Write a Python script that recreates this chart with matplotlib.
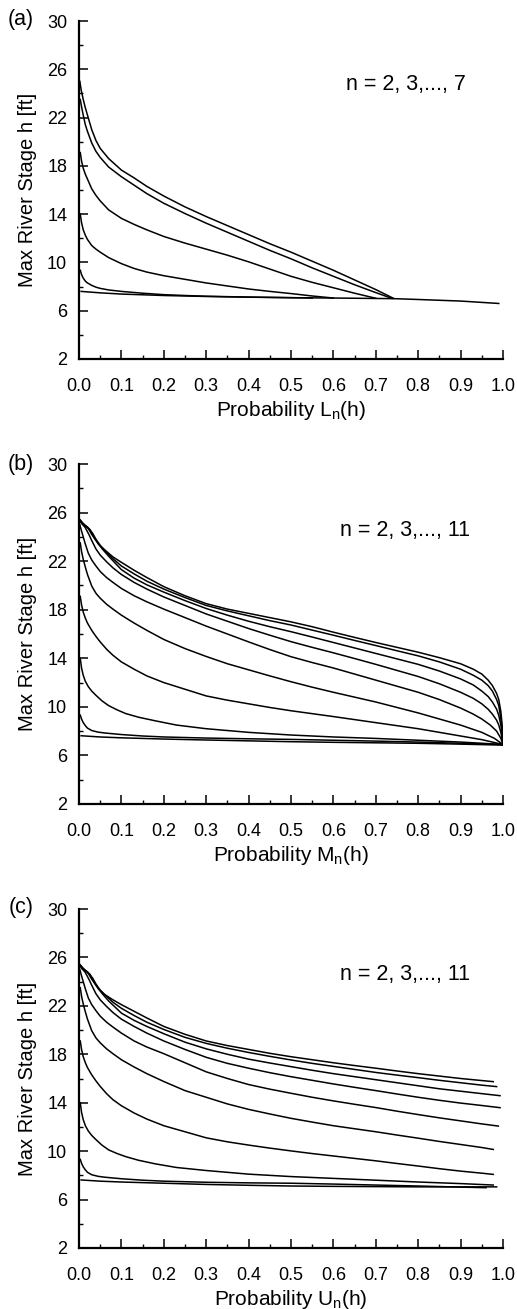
import matplotlib
matplotlib.use("Agg")
import matplotlib.pyplot as plt
from matplotlib.ticker import FixedLocator, FormatStrFormatter

plt.rcParams['font.family'] = ['Liberation Sans', 'DejaVu Sans']
plt.rcParams['mathtext.fontset'] = 'custom'
plt.rcParams['mathtext.rm'] = 'Liberation Sans'

# ---------------- data: panel (a)  L_n(h) ----------------
A7_P = [0.002, 0.005, 0.01, 0.015, 0.02, 0.03, 0.04, 0.05, 0.07, 0.1, 0.13, 0.16, 0.2, 0.25, 0.3, 0.35, 0.4, 0.45, 0.5, 0.55, 0.6, 0.65, 0.7, 0.742]
A7_H = [25.0, 24.3, 23.5, 22.8, 22.2, 21.0, 20.1, 19.45, 18.6, 17.65, 17.0, 16.3, 15.5, 14.6, 13.8, 13.05, 12.3, 11.55, 10.85, 10.1, 9.35, 8.55, 7.75, 7.02]
A6_P = [0.003, 0.006, 0.01, 0.015, 0.02, 0.03, 0.04, 0.05, 0.07, 0.1, 0.13, 0.16, 0.2, 0.25, 0.3, 0.35, 0.4, 0.45, 0.5, 0.55, 0.6, 0.65, 0.7, 0.738]
A6_H = [23.5, 22.9, 22.2, 21.4, 20.85, 19.9, 19.2, 18.7, 17.9, 17.1, 16.4, 15.7, 14.9, 14.05, 13.25, 12.5, 11.75, 11.0, 10.3, 9.55, 8.85, 8.15, 7.5, 7.02]
A5_P = [0.003, 0.006, 0.01, 0.015, 0.02, 0.03, 0.04, 0.05, 0.07, 0.1, 0.13, 0.16, 0.2, 0.25, 0.3, 0.35, 0.4, 0.45, 0.5, 0.55, 0.6, 0.65, 0.7]
A5_H = [19.1, 18.4, 17.8, 17.3, 16.9, 16.1, 15.55, 15.1, 14.35, 13.65, 13.15, 12.7, 12.15, 11.6, 11.1, 10.6, 10.05, 9.45, 8.85, 8.35, 7.9, 7.45, 7.03]
A4_P = [0.003, 0.006, 0.01, 0.015, 0.02, 0.03, 0.04, 0.05, 0.07, 0.1, 0.13, 0.16, 0.2, 0.25, 0.3, 0.35, 0.4, 0.45, 0.5, 0.55, 0.6]
A4_H = [14.0, 13.3, 12.7, 12.25, 11.9, 11.4, 11.1, 10.85, 10.4, 9.9, 9.5, 9.2, 8.9, 8.6, 8.3, 8.05, 7.8, 7.6, 7.42, 7.22, 7.05]
A3_P = [0.003, 0.006, 0.01, 0.015, 0.02, 0.03, 0.04, 0.05, 0.07, 0.1, 0.15, 0.2, 0.25, 0.3, 0.4, 0.5, 0.55]
A3_H = [9.35, 9.0, 8.7, 8.45, 8.3, 8.1, 7.95, 7.85, 7.72, 7.6, 7.45, 7.33, 7.26, 7.2, 7.13, 7.08, 7.05]
A2_P = [0.005, 0.05, 0.1, 0.2, 0.3, 0.4, 0.5, 0.6, 0.742, 0.8, 0.9, 0.99]
A2_H = [7.6, 7.48, 7.38, 7.26, 7.18, 7.12, 7.08, 7.05, 7.0, 6.93, 6.8, 6.6]

# ---------------- data: panel (b)  M_n(h) ----------------
B11_P = [0.002, 0.008, 0.014, 0.02, 0.026, 0.035, 0.046, 0.06, 0.08, 0.1, 0.13, 0.16, 0.2, 0.25, 0.3, 0.35, 0.4, 0.45, 0.5, 0.55, 0.6, 0.65, 0.7, 0.75, 0.8, 0.85, 0.9, 0.93, 0.95, 0.965, 0.975, 0.985, 0.99, 0.995, 0.998, 1.0]
B11_H = [25.4, 25.15, 24.95, 24.8, 24.6, 24.0, 23.4, 22.95, 22.35, 21.9, 21.25, 20.65, 19.9, 19.15, 18.5, 18.05, 17.7, 17.35, 17.0, 16.6, 16.15, 15.72, 15.3, 14.9, 14.5, 14.05, 13.55, 13.1, 12.7, 12.2, 11.75, 11.1, 10.6, 9.6, 8.5, 6.9]
B10_P = [0.002, 0.008, 0.014, 0.02, 0.026, 0.032, 0.04, 0.05, 0.06, 0.08, 0.1, 0.13, 0.16, 0.2, 0.25, 0.3, 0.35, 0.4, 0.45, 0.5, 0.55, 0.6, 0.65, 0.7, 0.75, 0.8, 0.85, 0.9, 0.93, 0.95, 0.965, 0.975, 0.985, 0.99, 0.995, 0.998, 1.0]
B10_H = [25.4, 25.15, 24.95, 24.75, 24.55, 24.3, 23.8, 23.3, 22.9, 22.2, 21.6, 20.95, 20.35, 19.7, 19.0, 18.35, 17.9, 17.5, 17.1, 16.74, 16.32, 15.9, 15.47, 15.05, 14.62, 14.2, 13.7, 13.1, 12.6, 12.2, 11.75, 11.3, 10.6, 10.1, 9.0, 8.0, 6.9]
B9_P = [0.002, 0.008, 0.014, 0.02, 0.025, 0.03, 0.035, 0.045, 0.055, 0.07, 0.1, 0.13, 0.16, 0.2, 0.25, 0.3, 0.35, 0.4, 0.45, 0.5, 0.55, 0.6, 0.65, 0.7, 0.75, 0.8, 0.85, 0.9, 0.93, 0.95, 0.965, 0.975, 0.985, 0.99, 0.995, 0.998, 1.0]
B9_H = [25.4, 25.15, 24.95, 24.8, 24.5, 24.2, 23.95, 23.45, 23.0, 22.4, 21.3, 20.6, 20.05, 19.45, 18.75, 18.1, 17.55, 17.05, 16.6, 16.19, 15.75, 15.3, 14.85, 14.4, 13.95, 13.5, 12.95, 12.3, 11.8, 11.3, 10.85, 10.4, 9.8, 9.3, 8.5, 7.7, 6.9]
B8_P = [0.002, 0.006, 0.01, 0.014, 0.018, 0.024, 0.03, 0.04, 0.05, 0.065, 0.08, 0.1, 0.13, 0.16, 0.2, 0.25, 0.3, 0.35, 0.4, 0.45, 0.5, 0.55, 0.6, 0.65, 0.7, 0.75, 0.8, 0.85, 0.9, 0.93, 0.95, 0.965, 0.975, 0.985, 0.99, 0.995, 1.0]
B8_H = [25.35, 25.1, 24.95, 24.8, 24.55, 24.15, 23.7, 23.0, 22.5, 21.95, 21.45, 20.9, 20.25, 19.7, 19.05, 18.35, 17.65, 17.05, 16.45, 15.9, 15.37, 14.9, 14.45, 13.98, 13.5, 13.0, 12.5, 11.9, 11.2, 10.7, 10.25, 9.8, 9.4, 8.9, 8.5, 7.9, 6.9]
B7_P = [0.002, 0.005, 0.01, 0.015, 0.022, 0.03, 0.04, 0.05, 0.065, 0.08, 0.1, 0.13, 0.16, 0.2, 0.25, 0.3, 0.35, 0.4, 0.45, 0.5, 0.55, 0.6, 0.65, 0.7, 0.75, 0.8, 0.85, 0.9, 0.93, 0.95, 0.97, 0.985, 0.995, 1.0]
B7_H = [25.0, 24.6, 24.0, 23.4, 22.65, 22.1, 21.6, 21.15, 20.65, 20.25, 19.75, 19.15, 18.65, 18.05, 17.35, 16.65, 16.0, 15.35, 14.72, 14.13, 13.65, 13.2, 12.7, 12.2, 11.7, 11.2, 10.6, 9.9, 9.4, 9.0, 8.5, 8.0, 7.4, 6.9]
B6_P = [0.003, 0.006, 0.01, 0.015, 0.02, 0.03, 0.04, 0.05, 0.065, 0.08, 0.1, 0.13, 0.16, 0.2, 0.25, 0.3, 0.35, 0.4, 0.45, 0.5, 0.55, 0.6, 0.65, 0.7, 0.75, 0.8, 0.85, 0.9, 0.95, 0.98, 1.0]
B6_H = [23.5, 22.8, 22.15, 21.5, 20.9, 19.95, 19.35, 18.95, 18.45, 18.05, 17.55, 16.9, 16.3, 15.55, 14.8, 14.15, 13.55, 13.05, 12.55, 12.07, 11.62, 11.2, 10.8, 10.4, 9.95, 9.5, 9.0, 8.5, 7.9, 7.4, 6.9]
B5_P = [0.003, 0.006, 0.01, 0.015, 0.02, 0.03, 0.04, 0.05, 0.065, 0.08, 0.1, 0.13, 0.16, 0.2, 0.25, 0.3, 0.35, 0.4, 0.45, 0.5, 0.6, 0.7, 0.8, 0.9, 0.95, 1.0]
B5_H = [19.1, 18.4, 17.8, 17.3, 16.9, 16.3, 15.8, 15.35, 14.75, 14.25, 13.7, 13.1, 12.55, 12.0, 11.45, 10.9, 10.55, 10.25, 9.95, 9.68, 9.2, 8.7, 8.2, 7.6, 7.3, 6.9]
B4_P = [0.003, 0.006, 0.01, 0.015, 0.022, 0.03, 0.04, 0.054, 0.07, 0.09, 0.11, 0.14, 0.18, 0.23, 0.3, 0.4, 0.5, 0.6, 0.7, 0.8, 0.9, 1.0]
B4_H = [14.0, 13.2, 12.6, 12.1, 11.66, 11.3, 10.95, 10.5, 10.1, 9.75, 9.45, 9.15, 8.85, 8.5, 8.2, 7.9, 7.68, 7.52, 7.4, 7.25, 7.1, 6.9]
B3_P = [0.003, 0.006, 0.01, 0.015, 0.02, 0.03, 0.045, 0.06, 0.1, 0.15, 0.2, 0.3, 0.4, 0.5, 0.6, 0.7, 0.8, 0.9, 1.0]
B3_H = [9.32, 9.0, 8.7, 8.45, 8.25, 8.05, 7.92, 7.85, 7.72, 7.6, 7.52, 7.43, 7.37, 7.32, 7.25, 7.18, 7.1, 7.0, 6.9]
B2_P = [0.005, 0.05, 0.1, 0.2, 0.3, 0.4, 0.5, 0.6, 0.7, 0.8, 0.9, 1.0]
B2_H = [7.62, 7.52, 7.45, 7.35, 7.27, 7.2, 7.13, 7.08, 7.04, 7.0, 6.93, 6.85]

# ---------------- data: panel (c)  U_n(h) ----------------
C11_P = [0.002, 0.008, 0.014, 0.02, 0.026, 0.035, 0.046, 0.06, 0.08, 0.1, 0.13, 0.16, 0.2, 0.25, 0.3, 0.35, 0.4, 0.45, 0.5, 0.55, 0.6, 0.65, 0.7, 0.75, 0.8, 0.85, 0.9, 0.95, 0.977]
C11_H = [25.4, 25.15, 24.95, 24.8, 24.6, 24.0, 23.4, 22.95, 22.5, 22.1, 21.55, 21.0, 20.3, 19.65, 19.1, 18.72, 18.4, 18.08, 17.8, 17.55, 17.3, 17.07, 16.85, 16.62, 16.4, 16.2, 16.0, 15.83, 15.74]
C10_P = [0.002, 0.008, 0.014, 0.02, 0.026, 0.032, 0.04, 0.05, 0.06, 0.08, 0.1, 0.13, 0.16, 0.2, 0.25, 0.3, 0.35, 0.4, 0.45, 0.5, 0.55, 0.6, 0.65, 0.7, 0.75, 0.8, 0.85, 0.9, 0.95, 0.985]
C10_H = [25.4, 25.15, 24.95, 24.75, 24.55, 24.3, 23.8, 23.3, 22.95, 22.3, 21.8, 21.2, 20.65, 20.05, 19.4, 18.9, 18.5, 18.15, 17.83, 17.53, 17.25, 17.0, 16.75, 16.5, 16.28, 16.07, 15.85, 15.65, 15.45, 15.33]
C9_P = [0.002, 0.008, 0.014, 0.02, 0.025, 0.03, 0.035, 0.045, 0.055, 0.07, 0.1, 0.13, 0.16, 0.2, 0.25, 0.3, 0.35, 0.4, 0.45, 0.5, 0.55, 0.6, 0.65, 0.7, 0.75, 0.8, 0.85, 0.9, 0.95, 0.993]
C9_H = [25.4, 25.15, 24.95, 24.8, 24.5, 24.2, 23.95, 23.45, 23.0, 22.4, 21.4, 20.8, 20.3, 19.7, 19.0, 18.45, 18.0, 17.6, 17.28, 16.98, 16.68, 16.4, 16.15, 15.9, 15.65, 15.4, 15.15, 14.95, 14.75, 14.58]
C8_P = [0.002, 0.006, 0.01, 0.014, 0.018, 0.024, 0.03, 0.04, 0.05, 0.065, 0.08, 0.1, 0.13, 0.16, 0.2, 0.25, 0.3, 0.35, 0.4, 0.45, 0.5, 0.55, 0.6, 0.65, 0.7, 0.75, 0.8, 0.85, 0.9, 0.95, 0.993]
C8_H = [25.35, 25.1, 24.95, 24.8, 24.55, 24.15, 23.7, 23.0, 22.5, 21.95, 21.45, 20.9, 20.3, 19.75, 19.1, 18.4, 17.75, 17.25, 16.85, 16.48, 16.15, 15.85, 15.55, 15.27, 15.0, 14.72, 14.45, 14.2, 13.97, 13.77, 13.59]
C7_P = [0.002, 0.005, 0.01, 0.015, 0.022, 0.03, 0.04, 0.05, 0.065, 0.08, 0.1, 0.13, 0.16, 0.2, 0.25, 0.3, 0.35, 0.4, 0.45, 0.5, 0.55, 0.6, 0.65, 0.7, 0.75, 0.8, 0.85, 0.9, 0.95, 0.989]
C7_H = [25.0, 24.6, 24.0, 23.4, 22.65, 22.1, 21.6, 21.15, 20.65, 20.25, 19.75, 19.1, 18.6, 18.05, 17.3, 16.55, 16.0, 15.5, 15.12, 14.78, 14.45, 14.15, 13.87, 13.6, 13.3, 13.02, 12.75, 12.5, 12.25, 12.07]
C6_P = [0.003, 0.006, 0.01, 0.015, 0.02, 0.03, 0.04, 0.05, 0.065, 0.08, 0.1, 0.13, 0.16, 0.2, 0.25, 0.3, 0.35, 0.4, 0.45, 0.5, 0.55, 0.6, 0.65, 0.7, 0.75, 0.8, 0.85, 0.9, 0.95, 0.977]
C6_H = [23.5, 22.8, 22.15, 21.5, 20.9, 19.95, 19.35, 18.95, 18.45, 18.05, 17.55, 16.95, 16.4, 15.75, 15.0, 14.45, 13.9, 13.45, 13.07, 12.71, 12.4, 12.1, 11.85, 11.6, 11.33, 11.07, 10.8, 10.55, 10.3, 10.14]
C5_P = [0.003, 0.006, 0.01, 0.015, 0.02, 0.03, 0.04, 0.05, 0.065, 0.08, 0.1, 0.13, 0.16, 0.2, 0.25, 0.3, 0.35, 0.4, 0.45, 0.5, 0.55, 0.6, 0.65, 0.7, 0.75, 0.8, 0.85, 0.9, 0.95, 0.977]
C5_H = [19.1, 18.4, 17.8, 17.3, 16.9, 16.3, 15.8, 15.35, 14.75, 14.25, 13.75, 13.15, 12.65, 12.1, 11.6, 11.1, 10.77, 10.5, 10.25, 10.02, 9.8, 9.6, 9.4, 9.2, 8.98, 8.77, 8.55, 8.35, 8.18, 8.08]
C4_P = [0.003, 0.006, 0.01, 0.015, 0.022, 0.03, 0.04, 0.054, 0.07, 0.09, 0.11, 0.14, 0.18, 0.23, 0.3, 0.4, 0.5, 0.6, 0.7, 0.8, 0.9, 0.977]
C4_H = [14.0, 13.2, 12.6, 12.1, 11.66, 11.3, 10.95, 10.5, 10.1, 9.8, 9.55, 9.25, 8.95, 8.65, 8.4, 8.1, 7.9, 7.75, 7.6, 7.45, 7.32, 7.2]
C3_P = [0.003, 0.006, 0.01, 0.015, 0.02, 0.03, 0.045, 0.06, 0.1, 0.15, 0.2, 0.3, 0.4, 0.5, 0.6, 0.7, 0.8, 0.9, 0.96]
C3_H = [9.32, 9.0, 8.7, 8.45, 8.25, 8.05, 7.92, 7.85, 7.72, 7.6, 7.52, 7.43, 7.38, 7.35, 7.28, 7.2, 7.12, 7.03, 6.98]
C2_P = [0.005, 0.05, 0.1, 0.2, 0.3, 0.4, 0.5, 0.6, 0.7, 0.8, 0.9, 0.985]
C2_H = [7.62, 7.52, 7.45, 7.35, 7.25, 7.18, 7.12, 7.09, 7.07, 7.05, 7.05, 7.05]

Y_MAJOR = [2, 6, 10, 14, 18, 22, 26, 30]
Y_MINOR = [4, 8, 12, 16, 20, 24, 28]
X_MAJOR = [0.0, 0.1, 0.2, 0.3, 0.4, 0.5, 0.6, 0.7, 0.8, 0.9, 1.0]
X_MINOR = [0.05, 0.15, 0.25, 0.35, 0.45, 0.55, 0.65, 0.75, 0.85, 0.95]

PANEL_LABELS = ["(a)", "(b)", "(c)"]
X_LABELS = ["Probability L$_\\mathregular{n}$(h)",
            "Probability M$_\\mathregular{n}$(h)",
            "Probability U$_\\mathregular{n}$(h)"]
N_TEXT = ["n = 2, 3,..., 7", "n = 2, 3,..., 11", "n = 2, 3,..., 11"]
Y_LABEL = "Max River Stage h [ft]"

CURVES = [
    [(A2_P, A2_H), (A3_P, A3_H), (A4_P, A4_H), (A5_P, A5_H), (A6_P, A6_H), (A7_P, A7_H)],
    [(B2_P, B2_H), (B3_P, B3_H), (B4_P, B4_H), (B5_P, B5_H), (B6_P, B6_H),
     (B7_P, B7_H), (B8_P, B8_H), (B9_P, B9_H), (B10_P, B10_H), (B11_P, B11_H)],
    [(C2_P, C2_H), (C3_P, C3_H), (C4_P, C4_H), (C5_P, C5_H), (C6_P, C6_H),
     (C7_P, C7_H), (C8_P, C8_H), (C9_P, C9_H), (C10_P, C10_H), (C11_P, C11_H)],
]

W, H = 517, 1309
fig = plt.figure(figsize=(W / 100, H / 100), dpi=100)

# axes boxes in pixels: (left, top, right, bottom)
boxes = [(79, 21, 503, 359), (79, 464, 503, 804), (79, 909, 503, 1248)]
label_y = [19, 464, 908]
text_h = [24.7, 24.56, 24.55]

for i in range(3):
    l, t, r, b = boxes[i]
    ax = fig.add_axes([l / W, 1 - b / H, (r - l) / W, (b - t) / H])
    for p, h in CURVES[i]:
        ax.plot(p, h, color='black', lw=1.1, solid_joinstyle='round')
    ax.set_xlim(0, 1.0)
    ax.set_ylim(2, 30)
    ax.spines['top'].set_visible(False)
    ax.spines['right'].set_visible(False)
    for s in ('left', 'bottom'):
        ax.spines[s].set_linewidth(1.6)
    ax.xaxis.set_major_locator(FixedLocator(X_MAJOR))
    ax.xaxis.set_minor_locator(FixedLocator(X_MINOR))
    ax.yaxis.set_major_locator(FixedLocator(Y_MAJOR))
    ax.yaxis.set_minor_locator(FixedLocator(Y_MINOR))
    ax.xaxis.set_major_formatter(FormatStrFormatter('%.1f'))
    ax.tick_params(which='major', direction='in', length=6.5, width=1.1, labelsize=13)
    ax.tick_params(which='minor', direction='in', length=3, width=1.0)
    ax.tick_params(axis='x', which='major', pad=14)
    ax.tick_params(axis='y', which='major', pad=8.5)
    ax.set_xlabel(X_LABELS[i], fontsize=15, va='top')
    ax.xaxis.set_label_coords(0.5, -0.118)
    ax.set_ylabel(Y_LABEL, fontsize=14.5)
    ax.yaxis.set_label_coords(-0.099, 0.5)
    ax.text(0.77, text_h[i], N_TEXT[i], fontsize=15.5, ha='center', va='center')
    fig.text(21 / W, 1 - label_y[i] / H, PANEL_LABELS[i], fontsize=15.5,
             ha='center', va='center')

fig.savefig("out.png", dpi=100)
